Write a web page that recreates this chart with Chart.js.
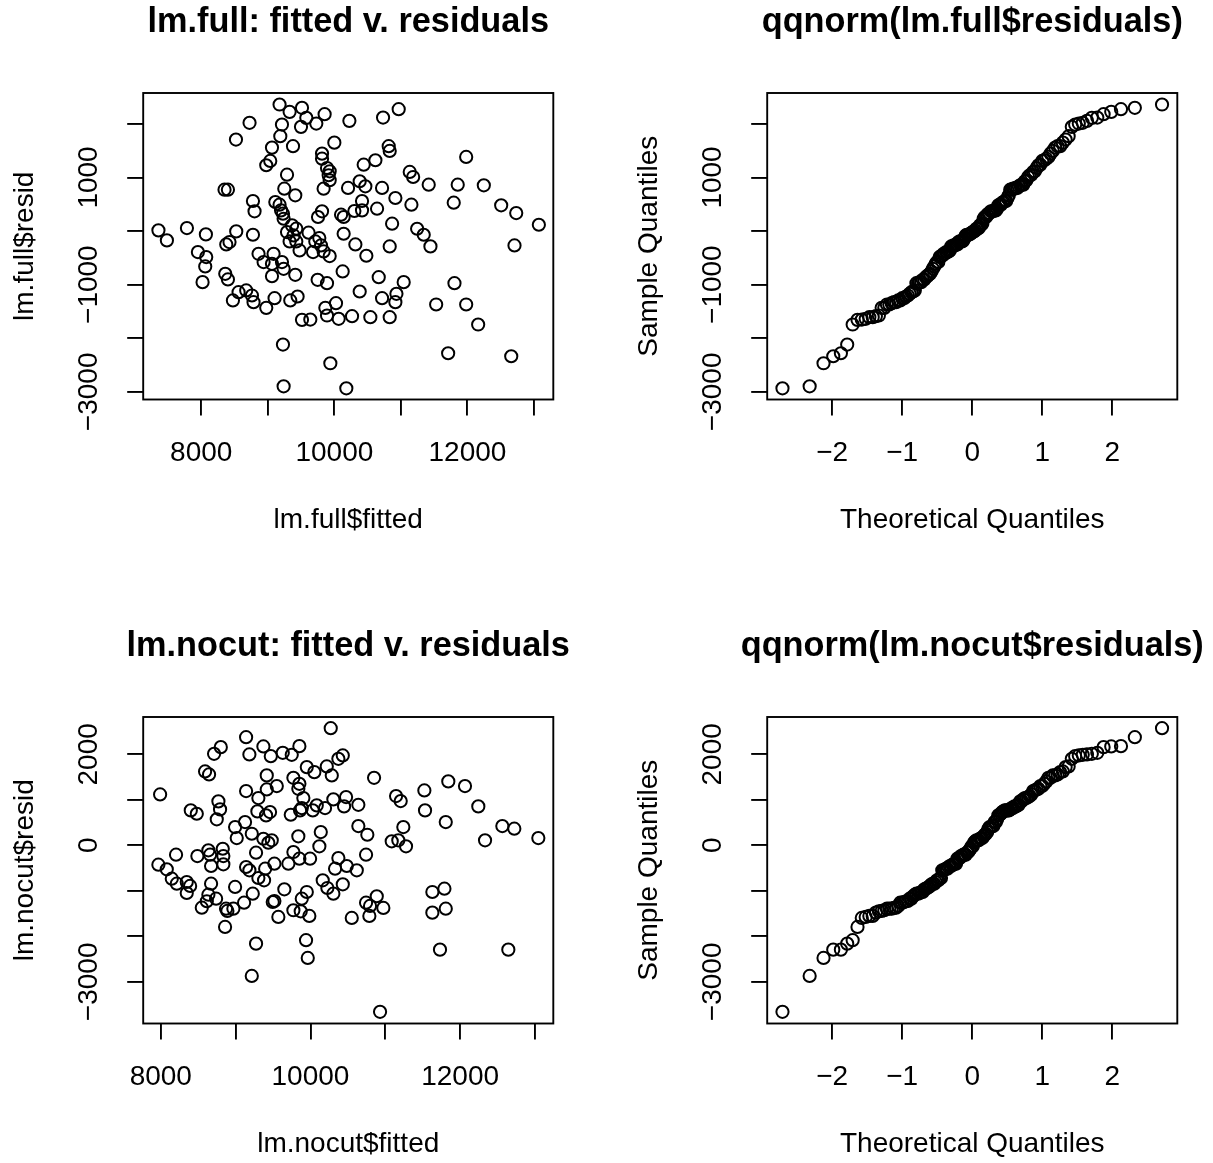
<!DOCTYPE html>
<html>
<head>
<meta charset="utf-8">
<script src="https://cdn.jsdelivr.net/npm/chart.js@4.4.1/dist/chart.umd.min.js"></script>
<style>
html,body{margin:0;padding:0;background:#fff;overflow:hidden;width:1213px;height:1163px;}
canvas{position:absolute;}
</style>
</head>
<body>
<canvas id="c1" width="624" height="624" style="left:0;top:0;width:624px;height:624px"></canvas>
<canvas id="c2" width="624" height="624" style="left:624px;top:0;width:624px;height:624px"></canvas>
<canvas id="c3" width="624" height="624" style="left:0;top:624px;width:624px;height:624px"></canvas>
<canvas id="c4" width="624" height="624" style="left:624px;top:624px;width:624px;height:624px"></canvas>
<script>
// ---------------- data ----------------
const fullFitted = [9177,8726,9213,9188,8522,9063,9037,8977,8350,8401,9248,8777,8801,9113,9177,9199,9238,7357,7484,7785,8070,8526,8425,8376,8777,7950,8075,8060,8861,8937,9087,9063,9213,9238,9063,8020,8361,8401,8476,8561,8676,8762,8786,8977,9102,9228,9238,9228,
9328,9514,9579,9499,9729,9854,10226,10732,10967,9379,10000,9815,9815,9890,9915,9930,9839,10441,10617,10817,10832,11133,11184,9289,9413,10206,10381,10466,10717,10917,11158,10416,10416,10301,10642,9815,9755,10101,10140,10868,9364,9428,9388,9328,9428,9478,9613,9680,9774,9800,9839,9930,10140,10316,10481,10832,9413,9749,9890,10125,10667,11042,10933,10917,10381,10717,9338,9448,9865,10025,9890,10065,10266,10541,10832,9514,9639,9940,10180,9289,9714,9930,
11981,11418,11854,12246,11794,12507,12733,13073,11244,11343,11444,12707,11805,11530,11981,12161,11710,12658];
const fullResid = [2361,2019,1987,1770,1707,1557,1308,1228,772,772,791,561,368,542,492,386,230,13,-174,56,-62,-6,-206,-249,-69,-392,-486,-660,-424,-579,-424,-611,-579,-704,-841,-953,-798,-903,-1295,-1140,-1108,-1202,-1327,-1433,-1252,-2118,-2897,324,
2224,2299,2112,1944,2006,2181,2056,2118,2274,1583,1650,1445,1351,1177,1041,948,791,1239,1321,1583,1495,1103,1009,1052,667,804,929,835,804,617,492,561,386,374,417,368,262,305,262,137,106,44,-81,-193,-193,-361,-31,-392,-131,-268,-380,-467,-50,-249,-461,-287,-816,-910,-972,-754,-860,-953,-1171,-1327,-1128,-1252,-1295,-1221,-1433,-1346,-1576,-1638,-1589,-1607,-1607,-1657,-1651,-2467,-2934,-19,-193,1115,
1383,865,865,854,529,480,336,118,43,-69,-286,-268,-972,-1370,-1370,-1744,-2280,-2336];

const nocutFitted = [7991,9140,9184,9371,9470,9630,8712,8802,8592,8645,9416,9550,9140,9304,9416,8770,8792,8748,8401,8481,9291,9407,9460,8993,9126,9015,9216,9371,9437,9483,9273,8204,7968,8080,8147,8214,8347,8392,8347,8489,8636,8659,8672,8828,8836,8836,8672,8636,8615,8548,8739,8872,8890,8970,8859,8993,9140,9184,9113,9229,9304,9380,9395,9518,9651,9496,9518,9571,9273,9216,
10271,9750,9852,9951,10052,10218,10285,10373,10432,10850,9772,9852,9838,9905,9737,9861,9884,10031,10084,10195,10306,10449,10476,10640,10640,10760,11144,11206,11241,11086,11174,11277,9838,10138,10119,9772,9852,9995,9705,10373,10329,10485,10619,10743,10164,10226,10306,10432,9951,9884,9772,9870,9985,10552,10743,10796,10886,10974,10787,9941,9964,10930,
11522,11842,12065,11531,11808,12243,12333,12564,12724,13045,11629,11790,11629,11808,11731,12644];
const nocutResid = [1119,2377,1997,2173,1960,2033,2011,2158,1624,1558,1537,1302,1192,1038,1229,966,790,571,768,694,746,658,731,402,511,160,255,145,57,110,-162,-206,-425,-527,-733,-843,-806,-893,-1047,-235,-110,-206,-454,-75,-235,-417,-843,-1084,-1229,-1370,-1172,-1392,-1442,-1392,-1793,-915,-476,-549,-1260,-1062,-718,-768,-513,-404,-966,-1245,-1223,-1574,-2160,-2869,
2575,1989,2180,1719,1609,1734,1536,1901,1975,1484,1484,1352,1242,1038,672,768,819,768,878,819,1010,856,1060,891,424,233,1082,972,402,88,110,-22,198,292,-22,-147,-294,-294,-404,-279,-513,-454,-549,-206,-768,-937,-1062,-856,-1025,-1172,-1427,-1449,-1552,-1596,-1260,-1332,-1119,-1376,-1552,-2085,-2474,-3659,
1207,1405,1302,768,511,856,110,424,365,160,-1025,-953,-1479,-1392,-2292,-2292];

const theoQuantiles = [-2.709,-2.321,-2.123,-1.984,-1.875,-1.785,-1.707,-1.638,-1.577,-1.521,
-1.469,-1.421,-1.376,-1.333,-1.293,-1.255,-1.218,-1.184,-1.150,-1.118,
-1.087,-1.057,-1.028,-0.999,-0.972,-0.945,-0.919,-0.893,-0.869,-0.844,
-0.820,-0.797,-0.773,-0.751,-0.729,-0.707,-0.685,-0.664,-0.643,-0.622,
-0.602,-0.582,-0.562,-0.542,-0.522,-0.503,-0.484,-0.465,-0.446,-0.428,
-0.409,-0.391,-0.373,-0.355,-0.337,-0.319,-0.301,-0.283,-0.266,-0.248,
-0.231,-0.213,-0.196,-0.179,-0.162,-0.144,-0.127,-0.110,-0.093,-0.076,
-0.059,-0.042,-0.025,-0.008,
0.008,0.025,0.042,0.059,0.076,0.093,0.110,0.127,0.144,0.162,
0.179,0.196,0.213,0.231,0.248,0.266,0.283,0.301,0.319,0.337,
0.355,0.373,0.391,0.409,0.428,0.446,0.465,0.484,0.503,0.522,
0.542,0.562,0.582,0.602,0.622,0.643,0.664,0.685,0.707,0.729,
0.751,0.773,0.797,0.820,0.844,0.869,0.893,0.919,0.945,0.972,
0.999,1.028,1.057,1.087,1.118,1.150,1.184,1.218,1.255,1.293,
1.333,1.376,1.421,1.469,1.521,1.577,1.638,1.707,1.785,1.875,
1.984,2.123,2.321,2.709];

// ticks
const fittedTicks = [8000,9000,10000,11000,12000,13000];
const fittedTickLabels = ['8000','','10000','','12000',''];
const residTicks = [-3000,-2000,-1000,0,1000,2000];
const fullResidTickLabels = ['\u22123000','','\u22121000','','1000',''];
const nocutResidTickLabels = ['\u22123000','','','0','','2000'];
const qqTicks = [-2,-1,0,1,2];
const qqTickLabels = ['\u22122','\u22121','0','1','2'];

// ---------------- rendering ----------------
const FAMILY = '"Liberation Sans", Arial, Helvetica, sans-serif';
const LW = 1.9;
const AXFS = 28;
const TITLEFS = 34.3;
Chart.defaults.font.family = FAMILY;
Chart.defaults.color = '#000';

const framePlugin = {
  id: 'frame',
  afterDraw(chart, args, opts) {
    const ctx = chart.ctx, a = chart.chartArea, y = chart.scales.y;
    ctx.save();
    ctx.strokeStyle = '#000';
    ctx.lineWidth = LW;
    ctx.strokeRect(a.left, a.top, a.right - a.left, a.bottom - a.top);
    ctx.fillStyle = '#000';
    // main title, centred over the plot region (no width squeezing)
    ctx.font = 'bold ' + TITLEFS + 'px ' + FAMILY;
    ctx.textAlign = 'center';
    ctx.textBaseline = 'middle';
    ctx.fillText(opts.title, (a.left + a.right) / 2, a.top - 70);
    // y tick labels, parallel to the axis
    ctx.font = AXFS + 'px ' + FAMILY;
    opts.ticks.forEach((v, i) => {
      const lab = opts.labels[i];
      if (!lab) return;
      const py = y.getPixelForValue(v);
      ctx.save();
      ctx.translate(a.left - 53.5, py);
      ctx.rotate(-Math.PI / 2);
      ctx.fillText(lab, 0, 0);
      ctx.restore();
    });
    ctx.restore();
  }
};

function panel(id, title, xTitle, yTitle, points, xLim, yLim, xTicks, xLabels, yTicks, yLabels) {
  const gridOpts = {
    display: true, drawOnChartArea: false, drawTicks: true,
    tickLength: 16, tickWidth: LW, tickColor: '#000', color: '#000', lineWidth: LW
  };
  new Chart(document.getElementById(id), {
    type: 'scatter',
    data: { datasets: [{
      data: points,
      pointStyle: 'circle',
      pointRadius: 6.1,
      pointHoverRadius: 6.1,
      pointBorderWidth: 2,
      pointBorderColor: '#000',
      pointBackgroundColor: 'rgba(0,0,0,0)',
      showLine: false,
      clip: false
    }]},
    options: {
      responsive: false,
      animation: false,
      devicePixelRatio: 1,
      events: [],
      layout: { padding: { left: 0, right: 70.7, top: 93, bottom: 0 } },
      plugins: {
        legend: { display: false },
        tooltip: { enabled: false },
        title: { display: false },
        frame: { title: title, ticks: yTicks, labels: yLabels }
      },
      scales: {
        x: {
          type: 'linear', position: 'bottom', min: xLim[0], max: xLim[1],
          afterBuildTicks: s => { s.ticks = xTicks.map(v => ({ value: v })); },
          afterFit: s => { s.height = 224.5; },
          grid: gridOpts,
          border: { display: false },
          ticks: {
            autoSkip: false, minRotation: 0, maxRotation: 0, padding: 20.7, color: '#000',
            font: { family: FAMILY, size: AXFS },
            callback: (v, i) => xLabels[i]
          },
          title: {
            display: true, text: xTitle, color: '#000',
            font: { family: FAMILY, size: AXFS },
            padding: { top: 0, bottom: 86.9 }
          }
        },
        y: {
          type: 'linear', position: 'left', min: yLim[0], max: yLim[1],
          afterBuildTicks: s => { s.ticks = yTicks.map(v => ({ value: v })); },
          afterFit: s => { s.width = 143.2; },
          grid: gridOpts,
          border: { display: false },
          ticks: { display: false },
          title: {
            display: true, text: yTitle, color: '#000',
            font: { family: FAMILY, size: AXFS },
            padding: { top: 8.5, bottom: 0 }
          }
        }
      }
    },
    plugins: [framePlugin]
  });
}

const fullPts = fullFitted.map((f, i) => ({ x: f, y: fullResid[i] }));
const nocutPts = nocutFitted.map((f, i) => ({ x: f, y: nocutResid[i] }));
const fullSorted = fullResid.slice().sort((a, b) => a - b);
const nocutSorted = nocutResid.slice().sort((a, b) => a - b);
const fullQQ = theoQuantiles.map((q, i) => ({ x: q, y: fullSorted[i] }));
const nocutQQ = theoQuantiles.map((q, i) => ({ x: q, y: nocutSorted[i] }));

panel('c1', 'lm.full: fitted v. residuals', 'lm.full$fitted', 'lm.full$resid', fullPts,
  [7128, 13290], [-3143, 2576], fittedTicks, fittedTickLabels, residTicks, fullResidTickLabels);
panel('c2', 'qqnorm(lm.full$residuals)', 'Theoretical Quantiles', 'Sample Quantiles', fullQQ,
  [-2.927, 2.927], [-3143, 2576], qqTicks, qqTickLabels, residTicks, fullResidTickLabels);
panel('c3', 'lm.nocut: fitted v. residuals', 'lm.nocut$fitted', 'lm.nocut$resid', nocutPts,
  [7765, 13245], [-3915, 2820], fittedTicks, fittedTickLabels, residTicks, nocutResidTickLabels);
panel('c4', 'qqnorm(lm.nocut$residuals)', 'Theoretical Quantiles', 'Sample Quantiles', nocutQQ,
  [-2.927, 2.927], [-3915, 2820], qqTicks, qqTickLabels, residTicks, nocutResidTickLabels);
</script>
</body>
</html>
